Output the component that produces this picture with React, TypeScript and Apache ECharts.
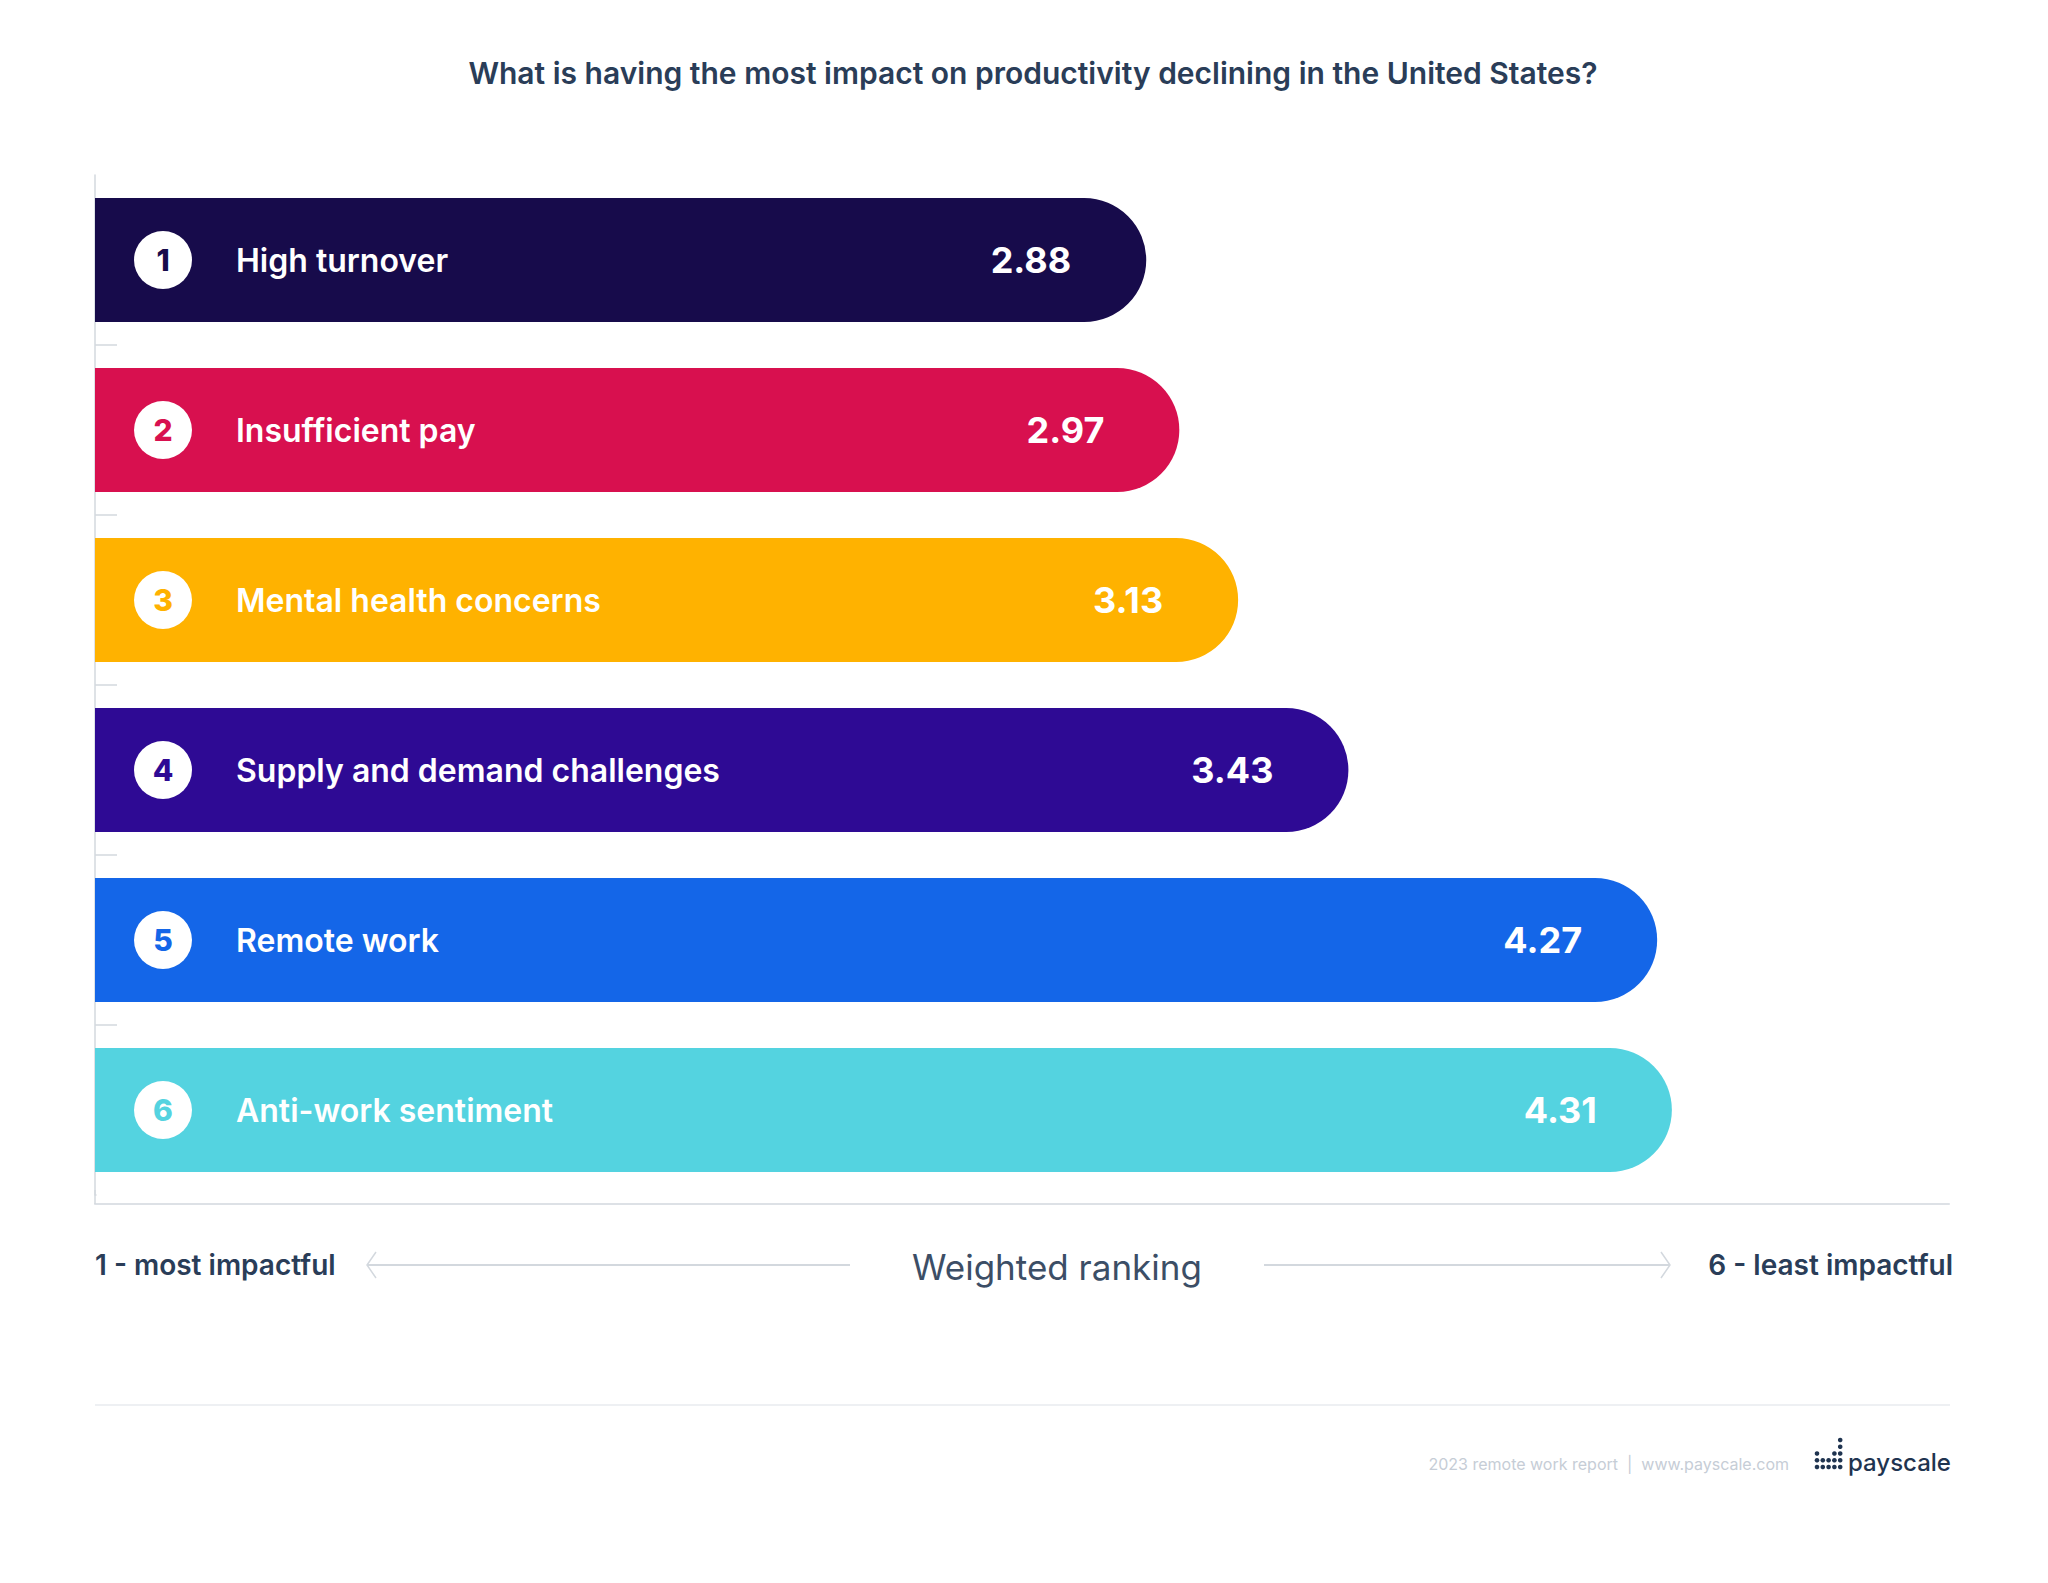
import React, { useEffect, useRef } from "react";
import * as echarts from "echarts";

const categories = [
  "High turnover",
  "Insufficient pay",
  "Mental health concerns",
  "Supply and demand challenges",
  "Remote work",
  "Anti-work sentiment",
];
const values = [2.88, 2.97, 3.13, 3.43, 4.27, 4.31];
const barColors = ["#170b4b", "#d8104f", "#ffb200", "#2e0a94", "#1466e8", "#54d3e0"];
const title = "What is having the most impact on productivity declining in the United States?";
const leftNote = "1 - most impactful";
const rightNote = "6 - least impactful";
const axisName = "Weighted ranking";
const footerText = "2023 remote work report  |  www.payscale.com";
const brand = "payscale";

const FONT = "Inter, 'Noto Sans', sans-serif";
const DARK = "#2a3d58";
const AXIS = "#d3d8de";

// logo dot pattern: [col, row]
const logoDots: [number, number][] = [
  [4, 0],
  [4, 1],
  [0, 2], [3, 2], [4, 2],
  [0, 3], [1, 3], [2, 3], [3, 3], [4, 3],
  [0, 4], [1, 4], [2, 4], [3, 4], [4, 4],
];

export default function App() {
  const ref = useRef<HTMLDivElement>(null);
  useEffect(() => {
    if (!ref.current) return;
    const chart = echarts.init(ref.current, undefined, { renderer: "svg" });
    const rich: Record<string, any> = {
      t: {
        color: "#ffffff",
        fontSize: 32,
        fontWeight: 600,
        fontFamily: FONT,
        padding: [0, 0, 0, 44],
      },
    };
    barColors.forEach((c, i) => {
      rich["n" + i] = {
        backgroundColor: "#ffffff",
        borderRadius: 29,
        width: 58,
        height: 58,
        lineHeight: 58,
        align: "center",
        verticalAlign: "middle",
        color: c,
        fontSize: 30,
        fontWeight: 800,
        fontFamily: FONT,
      };
    });

    const graphics: any[] = [
      {
        type: "text",
        x: 1033,
        y: 73,
        style: {
          text: title,
          fill: DARK,
          font: `600 30px ${FONT}`,
          textAlign: "center",
          textVerticalAlign: "middle",
        },
      },
      {
        type: "text",
        x: 95,
        y: 1265,
        style: { text: leftNote, fill: DARK, font: `600 28px ${FONT}`, textAlign: "left", textVerticalAlign: "middle" },
      },
      {
        type: "text",
        x: 1953,
        y: 1265,
        style: { text: rightNote, fill: DARK, font: `600 28px ${FONT}`, textAlign: "right", textVerticalAlign: "middle" },
      },
      {
        type: "text",
        x: 1057,
        y: 1267,
        style: { text: axisName, fill: "#3c4e66", font: `400 35px ${FONT}`, textAlign: "center", textVerticalAlign: "middle" },
      },
      { type: "line", shape: { x1: 367, y1: 1265, x2: 850, y2: 1265 }, style: { stroke: AXIS, lineWidth: 2 } },
      { type: "polyline", shape: { points: [[376, 1252], [367, 1265], [376, 1278]] }, style: { stroke: AXIS, lineWidth: 1.5, fill: null } },
      { type: "line", shape: { x1: 1264, y1: 1265, x2: 1670, y2: 1265 }, style: { stroke: AXIS, lineWidth: 2 } },
      { type: "polyline", shape: { points: [[1661, 1252], [1670, 1265], [1661, 1278]] }, style: { stroke: AXIS, lineWidth: 1.5, fill: null } },
      { type: "line", shape: { x1: 95, y1: 1405, x2: 1950, y2: 1405 }, style: { stroke: "#eef0f3", lineWidth: 2 } },
      // hide the closing band tick and join the y axis line to the x axis line
      { type: "rect", z: 100, shape: { x: 96.5, y: 1189, width: 26, height: 12 }, style: { fill: "#ffffff" } },
      { type: "line", z: 100, shape: { x1: 95, y1: 1190, x2: 95, y2: 1204 }, style: { stroke: AXIS, lineWidth: 1.5 } },
      {
        type: "text",
        x: 1789,
        y: 1464,
        style: { text: footerText, fill: "#c6cdd6", font: `400 16px ${FONT}`, textAlign: "right", textVerticalAlign: "middle" },
      },
      {
        type: "text",
        x: 1848,
        y: 1462,
        style: { text: brand, fill: "#1f3450", font: `500 24px ${FONT}`, textAlign: "left", textVerticalAlign: "middle" },
      },
    ];
    logoDots.forEach(([c, r]) => {
      graphics.push({
        type: "circle",
        shape: { cx: 1817 + c * 5.8, cy: 1440 + r * 6.75, r: 2.3 },
        style: { fill: "#1f3450" },
      });
    });

    chart.setOption({
      animation: false,
      backgroundColor: "#ffffff",
      grid: { left: 95, top: 175, right: 99, bottom: 388, containLabel: false },
      xAxis: {
        type: "value",
        min: 0.02,
        max: 5.064,
        offset: 9,
        axisLine: { show: true, lineStyle: { color: "#dde1e6", width: 2 } },
        axisTick: { show: false },
        axisLabel: { show: false },
        splitLine: { show: false },
      },
      yAxis: [
        {
          type: "category",
          data: categories,
          inverse: true,
          axisLine: { show: true, onZero: false, lineStyle: { color: AXIS, width: 1.5 } },
          axisTick: {
            show: true,
            inside: true,
            length: 22,
            interval: (i: number) => i > 0,
            lineStyle: { color: AXIS, width: 1.5 },
          },
          axisLabel: { show: false },
          splitLine: { show: false },
        },
        {
          type: "category",
          data: categories,
          inverse: true,
          position: "left",
          z: 10,
          axisLine: { show: false },
          axisTick: { show: false },
          splitLine: { show: false },
          axisLabel: {
            show: true,
            inside: true,
            margin: 39,
            formatter: (v: string, i: number) => `{n${i}|${i + 1}}{t|${v}}`,
            rich,
          },
        },
      ],
      series: [
        {
          type: "bar",
          yAxisIndex: 0,
          barWidth: 124,
          data: values.map((v, i) => ({
            value: v,
            itemStyle: { color: barColors[i], borderRadius: [0, 62, 62, 0] },
          })),
          label: {
            show: true,
            position: "insideRight",
            offset: [-70, 0],
            formatter: (p: any) => Number(p.value).toFixed(2),
            color: "#ffffff",
            fontSize: 36,
            fontWeight: 700,
            fontFamily: FONT,
          },
        },
      ],
      graphic: graphics,
    });
    return () => chart.dispose();
  }, []);
  return (
    <div
      ref={ref}
      style={{ position: "fixed", left: 0, top: 0, width: 2048, height: 1583, background: "#fff" }}
    />
  );
}
